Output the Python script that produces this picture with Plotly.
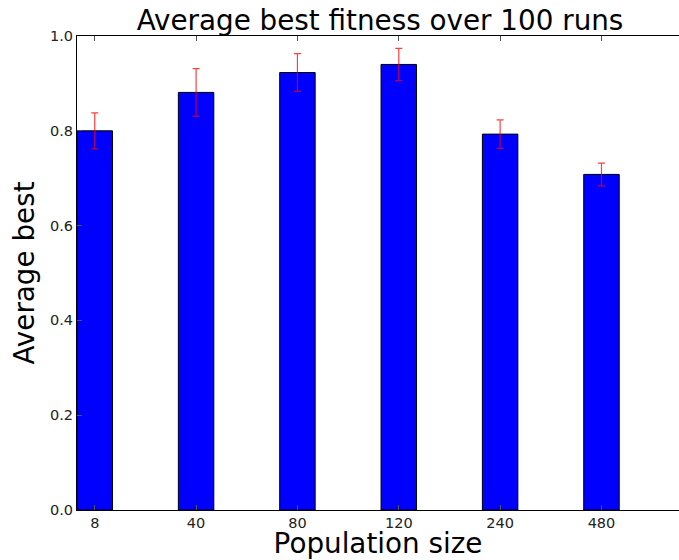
import plotly.graph_objects as go

categories = ["8", "40", "80", "120", "240", "480"]
means = [0.800, 0.881, 0.923, 0.940, 0.793, 0.708]
errors = [0.038, 0.050, 0.040, 0.034, 0.030, 0.024]

bar_width = 0.35
positions = [i + bar_width / 2 for i in range(len(categories))]

fig = go.Figure()
fig.add_trace(go.Bar(
    x=positions, y=means, width=bar_width,
    marker=dict(color="#0000ff", line=dict(color="black", width=1)),
    error_y=dict(type="data", array=errors, visible=True,
                 color="rgba(255,0,0,0.75)", thickness=1.2, width=3.5),
))

font = "DejaVu Sans"
fig.update_layout(
    width=679, height=560,
    margin=dict(l=77, r=0, t=36, b=50, autoexpand=False),
    paper_bgcolor="white", plot_bgcolor="white",
    showlegend=False,
    title=dict(text="Average best fitness over 100 runs", x=380/679, xanchor="center",
               y=1 - 20/560, yanchor="middle", automargin=False,
               font=dict(family=font, size=27.8, color="black")),
    font=dict(family=font, color="black"),
)
fig.update_xaxes(
    range=[0, 5.94], tickvals=positions, ticktext=categories,
    ticks="inside", ticklen=5, tickcolor="#555", tickwidth=1,
    showline=True, linecolor="black", linewidth=1, mirror="ticks",
    showgrid=False, zeroline=False, automargin=False,
    tickfont=dict(size=14.5, family=font, color="#222"),
    title=dict(text="Population size", font=dict(size=27.8, family=font, color="black"), standoff=4),
)
fig.update_yaxes(
    range=[0, 1], tickvals=[0, 0.2, 0.4, 0.6, 0.8, 1.0], tickformat=".1f",
    ticks="inside", ticklen=5, tickcolor="#555", tickwidth=1,
    showline=True, linecolor="black", linewidth=1,
    showgrid=False, zeroline=False, automargin=False,
    tickfont=dict(size=14.5, family=font, color="#222"),
    title=dict(text="Average best", font=dict(size=27.8, family=font, color="black"), standoff=7),
)

fig.write_html("out.html", config={"displayModeBar": False},
               post_script="document.body.style.margin='0';document.body.style.overflow='hidden';")
